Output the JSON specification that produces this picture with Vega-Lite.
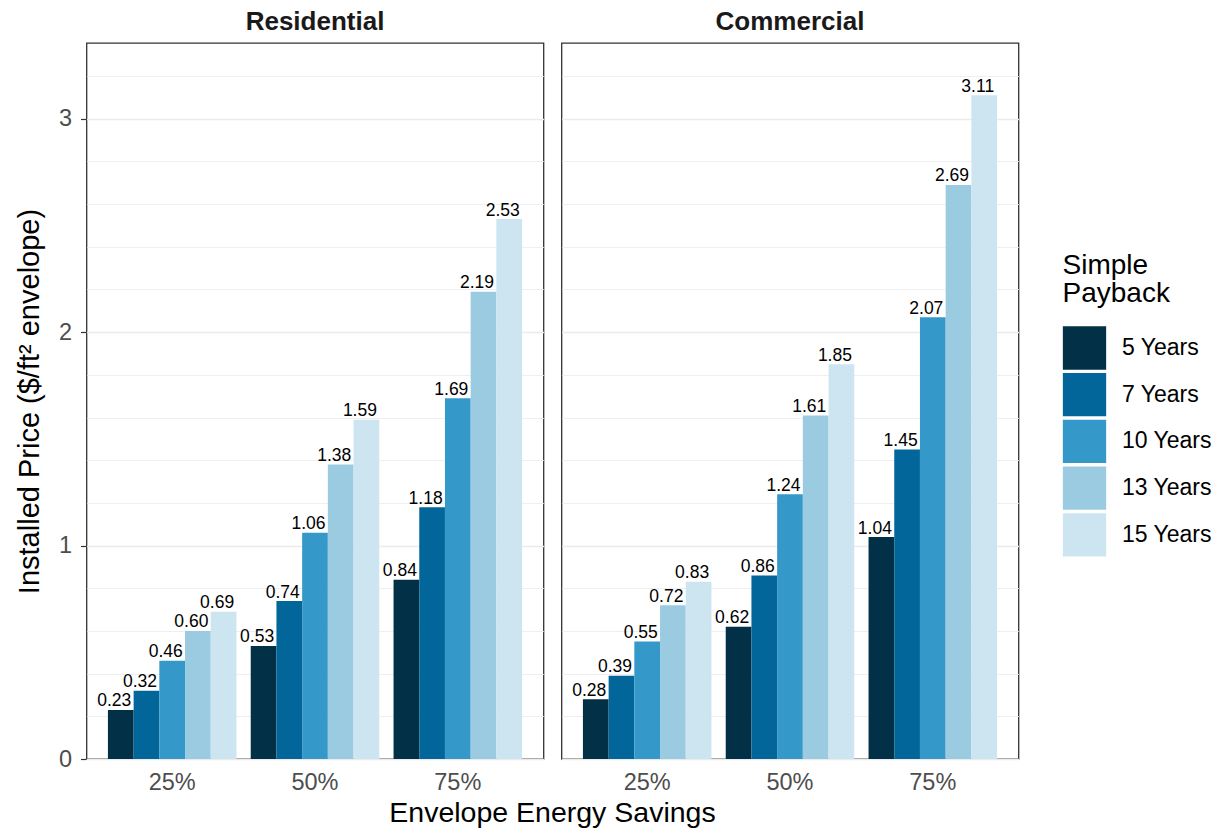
{
  "$schema": "https://vega.github.io/schema/vega-lite/v6.json",
  "padding": {"left": 14.5, "top": 9, "right": 5, "bottom": 0},
  "background": "white",
  "data": {
    "values": [
      {"sector": "Residential", "savings": "25%", "payback": "5 Years", "price": 0.23},
      {"sector": "Residential", "savings": "25%", "payback": "7 Years", "price": 0.32},
      {"sector": "Residential", "savings": "25%", "payback": "10 Years", "price": 0.46},
      {"sector": "Residential", "savings": "25%", "payback": "13 Years", "price": 0.60},
      {"sector": "Residential", "savings": "25%", "payback": "15 Years", "price": 0.69},
      {"sector": "Residential", "savings": "50%", "payback": "5 Years", "price": 0.53},
      {"sector": "Residential", "savings": "50%", "payback": "7 Years", "price": 0.74},
      {"sector": "Residential", "savings": "50%", "payback": "10 Years", "price": 1.06},
      {"sector": "Residential", "savings": "50%", "payback": "13 Years", "price": 1.38},
      {"sector": "Residential", "savings": "50%", "payback": "15 Years", "price": 1.59},
      {"sector": "Residential", "savings": "75%", "payback": "5 Years", "price": 0.84},
      {"sector": "Residential", "savings": "75%", "payback": "7 Years", "price": 1.18},
      {"sector": "Residential", "savings": "75%", "payback": "10 Years", "price": 1.69},
      {"sector": "Residential", "savings": "75%", "payback": "13 Years", "price": 2.19},
      {"sector": "Residential", "savings": "75%", "payback": "15 Years", "price": 2.53},
      {"sector": "Commercial", "savings": "25%", "payback": "5 Years", "price": 0.28},
      {"sector": "Commercial", "savings": "25%", "payback": "7 Years", "price": 0.39},
      {"sector": "Commercial", "savings": "25%", "payback": "10 Years", "price": 0.55},
      {"sector": "Commercial", "savings": "25%", "payback": "13 Years", "price": 0.72},
      {"sector": "Commercial", "savings": "25%", "payback": "15 Years", "price": 0.83},
      {"sector": "Commercial", "savings": "50%", "payback": "5 Years", "price": 0.62},
      {"sector": "Commercial", "savings": "50%", "payback": "7 Years", "price": 0.86},
      {"sector": "Commercial", "savings": "50%", "payback": "10 Years", "price": 1.24},
      {"sector": "Commercial", "savings": "50%", "payback": "13 Years", "price": 1.61},
      {"sector": "Commercial", "savings": "50%", "payback": "15 Years", "price": 1.85},
      {"sector": "Commercial", "savings": "75%", "payback": "5 Years", "price": 1.04},
      {"sector": "Commercial", "savings": "75%", "payback": "7 Years", "price": 1.45},
      {"sector": "Commercial", "savings": "75%", "payback": "10 Years", "price": 2.07},
      {"sector": "Commercial", "savings": "75%", "payback": "13 Years", "price": 2.69},
      {"sector": "Commercial", "savings": "75%", "payback": "15 Years", "price": 3.11}
    ]
  },
  "facet": {
    "column": {
      "field": "sector",
      "type": "nominal",
      "sort": ["Residential", "Commercial"],
      "title": "Envelope Energy Savings",
      "header": {
        "labelOrient": "top",
        "titleOrient": "bottom",
        "labelFontSize": 26,
        "labelFontWeight": "bold",
        "labelColor": "#1a1a1a",
        "labelPadding": 7,
        "titleFontSize": 28.5,
        "titleFontWeight": "normal",
        "titleColor": "#000000",
        "titlePadding": -5
      }
    }
  },
  "spacing": 16,
  "spec": {
    "width": 457,
    "height": 716,
    "encoding": {
      "x": {
        "field": "savings",
        "type": "ordinal",
        "scale": {"paddingInner": 0.1, "paddingOuter": 0.15},
        "axis": {
          "title": null,
          "labelAngle": 0,
          "labelFontSize": 23.5,
          "labelColor": "#4d4d4d",
          "labelPadding": 10.5,
          "ticks": false,
          "domain": false,
          "grid": false
        }
      },
      "xOffset": {
        "field": "payback",
        "type": "nominal",
        "sort": ["5 Years", "7 Years", "10 Years", "13 Years", "15 Years"],
        "scale": {"paddingInner": 0, "paddingOuter": 0}
      },
      "y": {
        "field": "price",
        "type": "quantitative",
        "scale": {"domain": [0, 3.355], "nice": false, "zero": true},
        "axis": {
          "title": "Installed Price ($/ft² envelope)",
          "titleFontSize": 29,
          "titleFontWeight": "normal",
          "titleColor": "#000000",
          "titlePadding": 14,
          "values": [0, 0.2, 0.4, 0.6, 0.8, 1, 1.2, 1.4, 1.6, 1.8, 2, 2.2, 2.4, 2.6, 2.8, 3, 3.2],
          "labelExpr": "datum.value % 1 === 0 ? format(datum.value, 'd') : ''",
          "labelFontSize": 23.5,
          "labelColor": "#4d4d4d",
          "labelPadding": 9,
          "domain": false,
          "tickColor": "#333333",
          "tickSize": 5,
          "tickWidth": 1.2,
          "tickOpacity": {"condition": {"test": "datum.value % 1 === 0", "value": 1}, "value": 0},
          "grid": true,
          "gridColor": "#ebebeb",
          "gridWidth": {"condition": {"test": "datum.value % 1 === 0", "value": 1.4}, "value": 0.8}
        }
      }
    },
    "layer": [
      {
        "mark": {"type": "bar"},
        "encoding": {
          "color": {
            "field": "payback",
            "type": "nominal",
            "sort": ["5 Years", "7 Years", "10 Years", "13 Years", "15 Years"],
            "scale": {
              "domain": ["5 Years", "7 Years", "10 Years", "13 Years", "15 Years"],
              "range": ["#023047", "#03669a", "#3498c9", "#9acbe1", "#cde5f0"]
            },
            "legend": {
              "orient": "none",
              "legendX": 976,
              "legendY": 209,
              "title": ["Simple", "Payback"],
              "titleFontSize": 28,
              "titleFontWeight": "normal",
              "titleColor": "#000000",
              "titleLineHeight": 28,
              "titlePadding": 18,
              "labelFontSize": 23,
              "labelColor": "#000000",
              "labelOffset": 15.5,
              "symbolType": "square",
              "symbolSize": 1875,
              "symbolStrokeWidth": 0,
              "symbolOpacity": 1,
              "rowPadding": 2.7
            }
          }
        }
      },
      {
        "mark": {"type": "text", "baseline": "alphabetic", "dy": -3.5, "dx": -6.5, "fontSize": 17.5, "color": "#000000"},
        "encoding": {
          "text": {"field": "price", "type": "quantitative", "format": ".2f"}
        }
      }
    ]
  },
  "config": {
    "font": "Liberation Sans",
    "view": {"stroke": "#333333", "strokeWidth": 1.3}
  }
}
